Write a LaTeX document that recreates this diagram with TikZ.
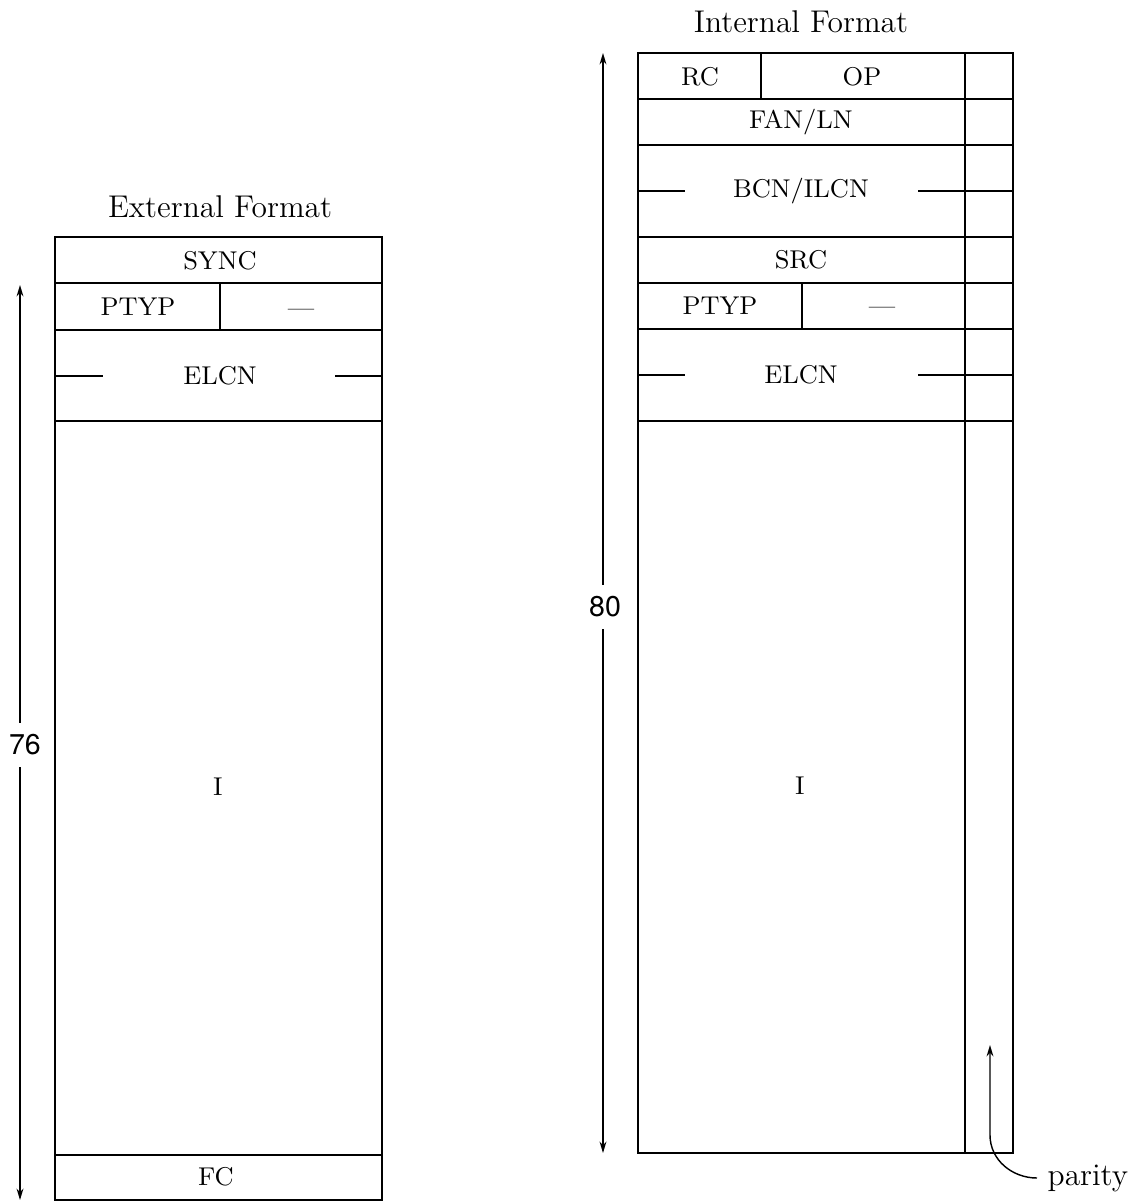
\documentclass[tikz,border=0pt]{standalone}
\usepackage{fontspec}
\usepackage{tikz}
\usetikzlibrary{arrows.meta}
\newfontfamily\helv{TeX Gyre Heros}

\begin{document}
\begin{tikzpicture}[x=0.35pt, y=-0.35pt, line width=0.8pt,
    ptr/.tip={Stealth[length=4pt, width=2.4pt]},
    dim/.style={line width=0.5pt, {ptr}-{ptr}},
    fld/.style={font=\small, inner sep=1pt},
    ttl/.style={font=\fontsize{11}{13}\selectfont},
    len/.style={font=\helv\fontsize{10}{12}\selectfont, fill=white, inner xsep=1pt, inner ysep=4pt}]
    \useasboundingbox (0,0) rectangle (1146,1202);

    % external format
    \node[ttl] (exttitle) at (220,207) {External Format};
    \draw (55,237) rectangle (382,1200);
    \foreach \y in {283,330,421,1155} \draw (55,\y) -- (382,\y);
    \draw (220,283) -- (220,330);
    \draw (55,376) -- (103,376); \draw (335,376) -- (382,376);
    \node[fld] (esync) at (220,261) {SYNC};
    \node[fld] (eptyp) at (138,307) {PTYP};
    \node[fld] (edash) at (301,313) {---};
    \node[fld] (eelcn) at (220,376) {ELCN};
    \node[fld] (einfo) at (218,787) {I};
    \node[fld] (efc) at (216,1177) {FC};
    \coordinate (etop) at (20,285); \coordinate (ebot) at (20,1200);
    \draw[dim] (etop) -- (ebot);
    \node[len] (elen) at (25,745) {76};

    % internal format
    \node[ttl] (inttitle) at (801,22) {Internal Format};
    \draw (638,53) rectangle (1013,1153);
    \draw (965,53) -- (965,1153);
    \foreach \y in {99,145,237,283,329,421} \draw (638,\y) -- (1013,\y);
    \draw (965,191) -- (1013,191); \draw (965,375) -- (1013,375);
    \draw (761,53) -- (761,99); \draw (802,283) -- (802,329);
    \draw (638,191) -- (685,191); \draw (918,191) -- (965,191);
    \draw (638,375) -- (685,375); \draw (918,375) -- (965,375);
    \node[fld] (irc) at (700,77) {RC};
    \node[fld] (iop) at (862,77) {OP};
    \node[fld] (ifan) at (801,122) {FAN/LN};
    \node[fld] (ibcn) at (801,191) {BCN/ILCN};
    \node[fld] (isrc) at (801,260) {SRC};
    \node[fld] (iptyp) at (720,306) {PTYP};
    \node[fld] (idash) at (882,311) {---};
    \node[fld] (ielcn) at (801,375) {ELCN};
    \node[fld] (iinfo) at (800,786) {I};
    \coordinate (itop) at (603,53); \coordinate (ibot) at (603,1153);
    \draw[dim] (itop) -- (ibot);
    \node[len] (ilen) at (605,607) {80};

    % parity bit
    \node[ttl, anchor=west] (parity) at (1037,1178) {parity};
    \coordinate (ptip) at (990,1045);
    \draw[line width=0.5pt, -{ptr}] (parity.west) to[out=180, in=-90] (990,1135) -- (ptip);
\end{tikzpicture}
\end{document}
